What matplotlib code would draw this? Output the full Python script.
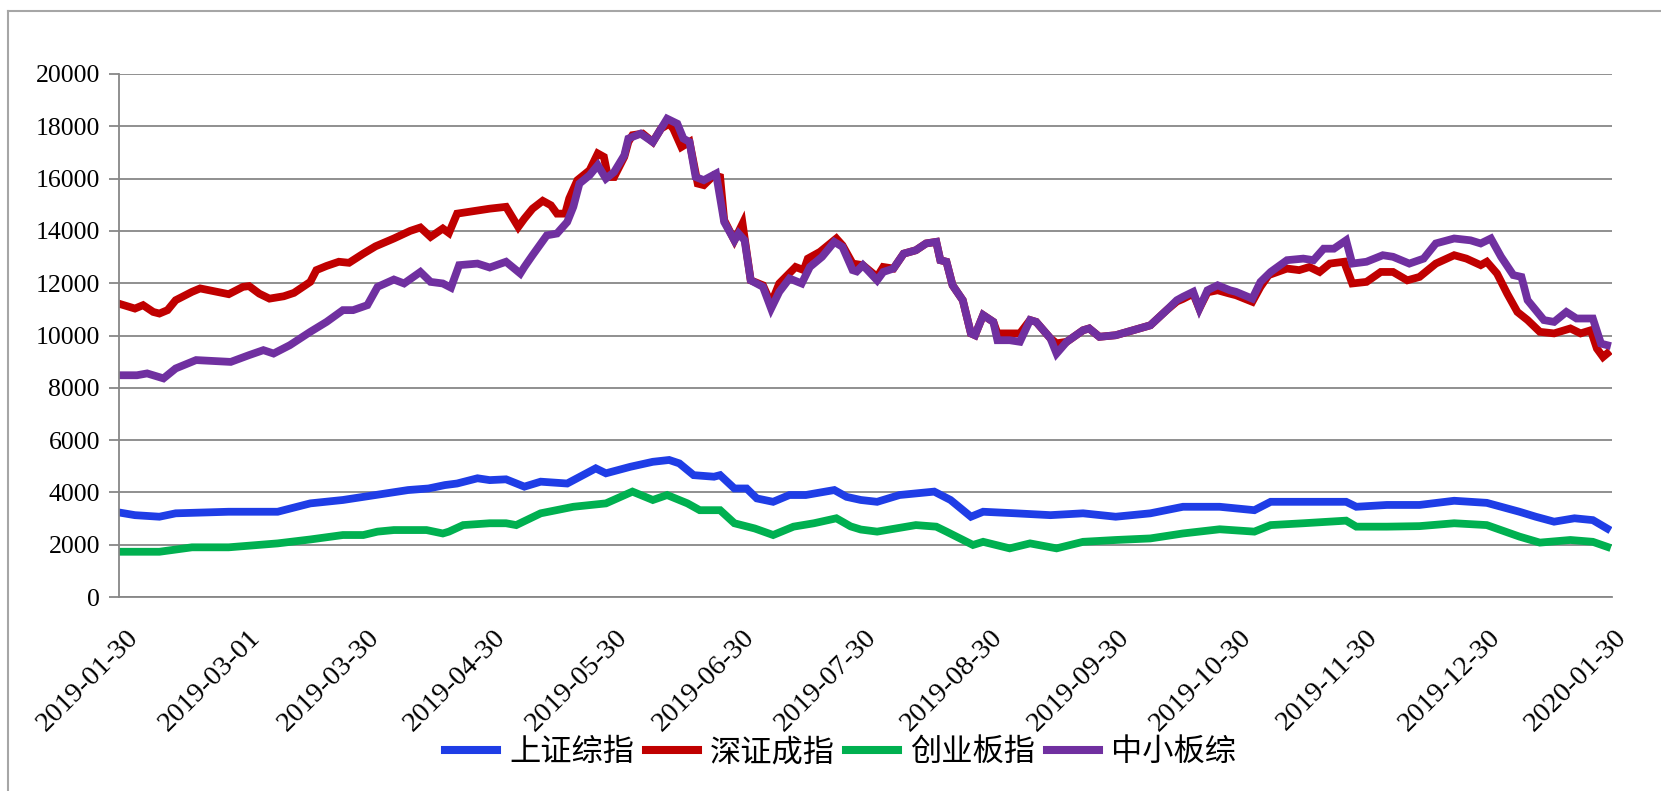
import numpy as np
import pandas as pd
import matplotlib
matplotlib.use("Agg")
import matplotlib.pyplot as plt
import matplotlib.transforms as mtransforms
from matplotlib.lines import Line2D

# 起始日期, 各点按距起始日的天数记录
start = pd.Timestamp("2019-01-30")
tick_labels = ["2019-01-30", "2019-03-01", "2019-03-30", "2019-04-30", "2019-05-30",
               "2019-06-30", "2019-07-30", "2019-08-30", "2019-09-30", "2019-10-30",
               "2019-11-30", "2019-12-30", "2020-01-30"]

# 上证综指
sh_days = [0, 4, 10, 14, 27, 39, 47, 55, 63, 71, 76, 80, 83, 88, 91, 95, 99.5, 103.5, 110,
           117, 119.5, 125.5, 131, 135, 137.5, 141, 146, 147.5, 151, 154, 156.5, 160.5,
           164.5, 168.5, 175.5, 178.5, 182, 186, 191.5, 200, 204, 209, 212, 220, 228.5,
           236.5, 244.5, 253, 261, 270, 278.5, 282.5, 294.5, 301, 303.5, 311, 319, 327.5,
           335.5, 343.5, 347.5, 352, 357, 361.5, 365]
sh_vals = [3235, 3130, 3070, 3200, 3260, 3260, 3580, 3710, 3900, 4090, 4150, 4280, 4340, 4540,
           4470, 4500, 4220, 4410, 4340, 4920, 4730, 4980, 5170, 5240, 5110, 4660, 4600, 4660,
           4150, 4150, 3770, 3640, 3900, 3900, 4090, 3830, 3710, 3640, 3900, 4030, 3710, 3070,
           3260, 3200, 3130, 3200, 3070, 3200, 3450, 3450, 3320, 3640, 3640, 3640, 3450, 3520,
           3520, 3680, 3600, 3260, 3070, 2880, 3010, 2940, 2620]

# 深证成指
sz_days = [0, 4, 6, 8.5, 10, 12, 14, 18, 20, 27, 30.5, 32, 34.5, 37, 40.5, 43, 47, 48.5, 51,
           54, 56.5, 60, 63, 67.5, 71.5, 74, 76.5, 79.5, 81, 83, 86, 91, 95, 97, 98, 99.5,
           101.5, 104, 106, 107.5, 109.5, 110.5, 112.5, 115.5, 117.5, 119, 120, 121.5, 124,
           125, 126, 128.5, 131, 133, 135, 136, 138, 140, 142, 143.5, 146, 147.5, 148.5, 151,
           153, 155, 158, 160, 162, 166, 168, 169, 172, 173.5, 176, 177.5, 180, 182.5, 186,
           187.5, 190, 192.5, 195.5, 198, 200.5, 201.5, 203, 204.5, 207, 209, 210, 212, 214.5,
           215.5, 218.5, 221, 223.5, 225, 228.5, 230, 232.5, 236.5, 238, 240.5, 244.5, 253,
           257, 259.5, 261, 263.5, 265, 267, 269.5, 272.5, 274, 278, 280, 282, 286.5, 289.5,
           292, 294.5, 297, 300.5, 302.5, 306, 309.5, 312.5, 316, 319, 323, 327.5, 330.5, 334,
           335.5, 338, 340.5, 343, 345.5, 348.5, 352, 356, 358.5, 361, 362.5, 364, 365]
sz_vals = [11220, 11030, 11160, 10900, 10840, 10970, 11350, 11670, 11800, 11580, 11860, 11890,
           11600, 11410, 11500, 11630, 12050, 12500, 12660, 12820, 12780, 13130, 13410, 13710,
           14000, 14130, 13770, 14090, 13920, 14660, 14730, 14850, 14920, 14410, 14150, 14470,
           14850, 15150, 14980, 14660, 14660, 15240, 15940, 16320, 16960, 16830, 16060, 16060,
           16830, 17400, 17660, 17720, 17400, 17910, 18100, 17910, 17210, 17400, 15810, 15750,
           16130, 16060, 14410, 13640, 14280, 12110, 11920, 11220, 11990, 12620, 12500, 12940,
           13200, 13390, 13710, 13450, 12750, 12690, 12240, 12620, 12560, 13130, 13260, 13520,
           13580, 12880, 12820, 11920, 11350, 10080, 10010, 10780, 10520, 10080, 10080, 10080,
           10590, 10520, 9890, 9700, 9760, 10200, 10270, 9950, 10010, 10390, 10970, 11300,
           11400, 11600, 11030, 11650, 11730, 11600, 11540, 11290, 11860, 12310, 12560, 12500,
           12620, 12430, 12750, 12820, 11990, 12050, 12430, 12430, 12110, 12240, 12750, 13070,
           12940, 12690, 12820, 12370, 11600, 10900, 10590, 10140, 10080, 10270, 10080, 10200,
           9500, 9180, 9310]

# 创业板指
cy_days = [0, 10, 18, 27, 39, 47, 55, 60, 63.5, 67.5, 75.5, 79.5, 81, 84.5, 91, 95, 97.5,
           103.5, 111.5, 119.5, 126, 131, 134.5, 139.5, 142.5, 147.5, 151, 156, 160.5, 165.5,
           170.5, 176, 179.5, 182, 186, 195.5, 200.5, 203, 209.5, 212, 218.5, 223.5, 230,
           236.5, 244.5, 253, 261, 270, 278.5, 282.5, 290.5, 301, 303.5, 311, 319, 327.5,
           335.5, 343.5, 348.5, 356, 361.5, 365]
cy_vals = [1730, 1730, 1900, 1900, 2050, 2200, 2370, 2370, 2500, 2560, 2560, 2430, 2500, 2750,
           2820, 2820, 2750, 3200, 3450, 3580, 4030, 3710, 3900, 3580, 3320, 3320, 2820, 2620,
           2370, 2690, 2820, 3010, 2700, 2580, 2500, 2750, 2690, 2500, 1990, 2110, 1860, 2050,
           1860, 2110, 2180, 2240, 2430, 2590, 2500, 2750, 2820, 2920, 2690, 2690, 2710, 2820,
           2750, 2310, 2080, 2180, 2110, 1920]

# 中小板综
zx_days = [0, 4.5, 7, 11, 14, 19, 27.5, 32, 35.5, 38, 42, 47, 51, 55, 57.5, 61, 63.5, 67.5,
           70, 74, 76.5, 79.5, 81.5, 83.5, 88, 91, 95, 97, 98.5, 99.5, 101.5, 105, 107.5, 110,
           111.5, 113, 115.5, 117.5, 119.5, 121.5, 124, 125, 128, 131, 134.5, 137, 138.5, 140,
           141.5, 143.5, 146.5, 148.5, 151, 152, 153.5, 155, 158, 160, 162, 164.5, 167.5,
           169.5, 172.5, 175.5, 177.5, 180, 181, 182.5, 186, 187.5, 190, 192.5, 195.5, 198,
           200.5, 201.5, 203, 204.5, 207, 209, 210, 212, 214.5, 215.5, 218.5, 221, 223.5, 225,
           228.5, 230, 232.5, 236.5, 238, 240.5, 244.5, 253, 257, 259.5, 261, 263.5, 265, 267,
           269.5, 272.5, 274, 278, 280, 282.5, 286.5, 290.5, 293, 295.5, 298, 301, 302.5, 306,
           310, 312.5, 316.5, 320, 323, 327.5, 331.5, 334, 336.5, 339, 342, 344, 345.5, 349.5,
           352, 355, 357.5, 361.5, 363.5, 365]
zx_vals = [8480, 8480, 8550, 8360, 8740, 9060, 8990, 9250, 9440, 9310, 9630, 10140, 10520,
           10970, 10970, 11160, 11860, 12140, 11990, 12430, 12050, 11990, 11830, 12690, 12750,
           12600, 12820, 12560, 12370, 12620, 13070, 13830, 13900, 14340, 14920, 15810, 16130,
           16510, 16000, 16250, 16890, 17530, 17720, 17400, 18290, 18100, 17530, 17400, 16060,
           15940, 16190, 14340, 13640, 13900, 13640, 12110, 11860, 11030, 11670, 12180, 11990,
           12620, 13010, 13580, 13390, 12500, 12450, 12690, 12110, 12430, 12560, 13130, 13260,
           13520, 13580, 12880, 12820, 11920, 11350, 10080, 10010, 10780, 10520, 9820, 9820,
           9760, 10590, 10520, 9890, 9310, 9760, 10200, 10270, 9950, 10010, 10390, 10970, 11350,
           11480, 11670, 11030, 11730, 11920, 11730, 11670, 11410, 12050, 12430, 12880, 12940,
           12880, 13320, 13320, 13640, 12750, 12820, 13070, 13010, 12750, 12940, 13520, 13710,
           13640, 13520, 13710, 13010, 12310, 12240, 11350, 10590, 10520, 10900, 10650, 10650,
           9690, 9630]

series = [("上证综指", sh_days, sh_vals, "#1f3de6"),
          ("深证成指", sz_days, sz_vals, "#c00000"),
          ("创业板指", cy_days, cy_vals, "#00b050"),
          ("中小板综", zx_days, zx_vals, "#7030a0")]

grid_c = "#878787"
W, H = 1661, 791

fig = plt.figure(figsize=(W / 100, H / 100), dpi=100)
fig.patch.set_facecolor("white")
ax = fig.add_axes([118.6 / W, 1 - 597 / H, (1612 - 118.6) / W, (597 - 74) / H])

for name, days, vals, color in series:
    x = start + pd.to_timedelta(np.array(days), unit="D")
    ax.plot(x, vals, color=color, lw=5.6, label=name, solid_joinstyle="miter")

ax.set_ylim(0, 20000)
ax.set_xlim(start, start + pd.Timedelta(days=366.2))
ax.set_yticks(range(0, 20001, 2000))
ax.yaxis.grid(True, color=grid_c, lw=1.3)
ax.set_axisbelow(True)

for s in ["top", "right"]:
    ax.spines[s].set_visible(False)
for s in ["left", "bottom"]:
    ax.spines[s].set_color(grid_c)
    ax.spines[s].set_linewidth(1.3)

ax.tick_params(axis="y", length=6.9, width=1.3, color=grid_c, pad=6.5,
               labelsize=18.5, labelcolor="black")
for lab in ax.get_yticklabels():
    lab.set_fontfamily("Liberation Serif")

tick_dates = pd.to_datetime(tick_labels)
ax.set_xticks(tick_dates)
ax.set_xticklabels(tick_labels, rotation=45, ha="right", va="center",
                   rotation_mode="anchor", fontsize=20.5, fontfamily="Liberation Serif")
ax.tick_params(axis="x", which="major", length=0, pad=0)
ax.set_xticks([tick_dates[0], tick_dates[-1]], minor=True)
ax.tick_params(axis="x", which="minor", length=7, width=1.3, color=grid_c)

offset = mtransforms.ScaledTranslation(16 / 100, -37 / 100, fig.dpi_scale_trans)
for lab in ax.get_xticklabels():
    lab.set_transform(lab.get_transform() + offset)

leg = fig.legend(loc="center", bbox_to_anchor=(0.506, 0.049), ncol=4, frameon=False,
                 prop={"family": ["Noto Sans CJK SC", "DejaVu Sans"], "size": 22.5},
                 handlelength=1.66, handletextpad=0.38, columnspacing=0.38)
for line in leg.get_lines():
    line.set_linewidth(5.8)

# 外框 (只露出左边和上边)
fig.add_artist(Line2D([8 / W, 8 / W], [0, 1 - 11 / H], transform=fig.transFigure,
                      color="#a6a6a6", lw=1.5))
fig.add_artist(Line2D([8 / W, 1], [1 - 11 / H, 1 - 11 / H], transform=fig.transFigure,
                      color="#a6a6a6", lw=1.5))

fig.savefig("out.png", dpi=100)
